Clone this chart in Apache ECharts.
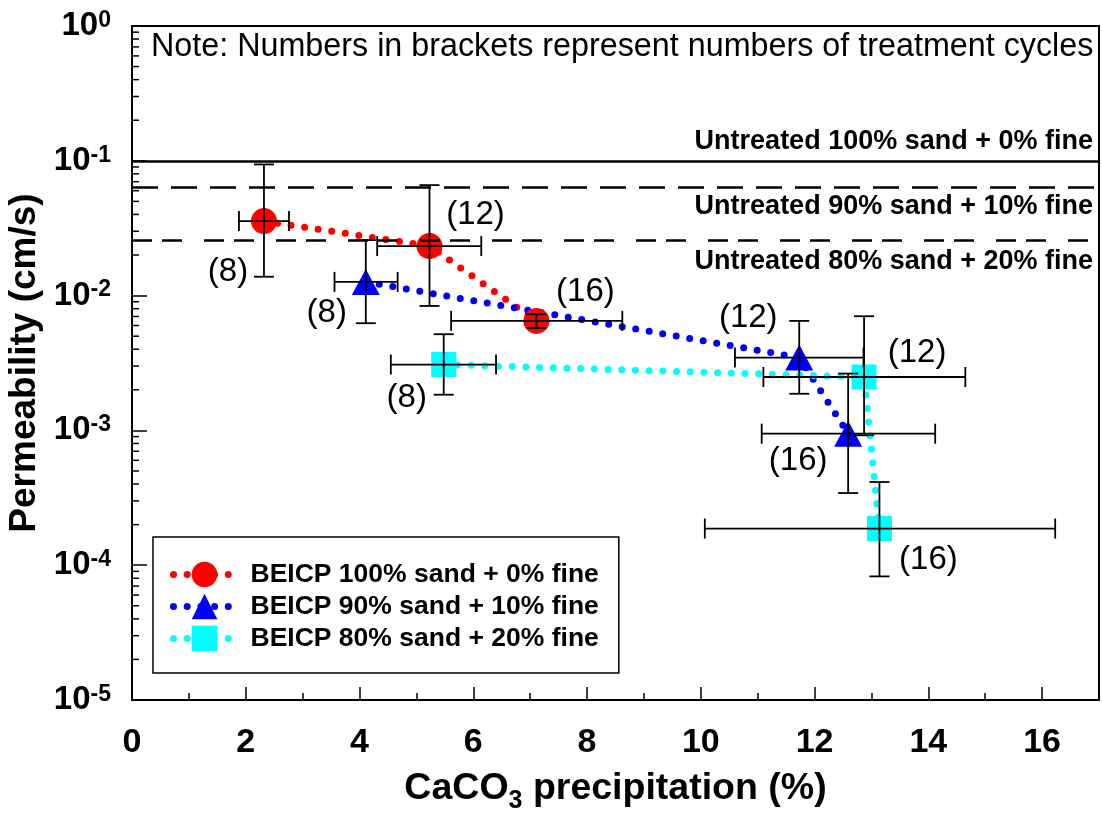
<!DOCTYPE html>
<html><head><meta charset="utf-8">
<script src="https://cdn.jsdelivr.net/npm/echarts@6/dist/echarts.min.js"></script>
<style>html,body{margin:0;padding:0;background:#fff}#c{width:1102px;height:813px}</style>
</head><body><div id="c"></div>
<script>
// ---------- data ----------
const seriesNames = ['BEICP 100% sand + 0% fine', 'BEICP 90% sand + 10% fine', 'BEICP 80% sand + 20% fine'];
const cycles = [8, 12, 16];

const redX   = [2.32, 5.23, 7.11];
const redY   = [0.0357, 0.0233, 0.00649];
const redXlo = [1.88, 4.31, 5.61];
const redXhi = [2.76, 6.14, 8.62];
const redYlo = [0.0138, 0.00838, 0.00575];
const redYhi = [0.094, 0.066, 0.00728];

const blueX   = [4.11, 11.73, 12.59];
const blueY   = [0.01264, 0.00347, 0.000946];
const blueXlo = [3.56, 10.60, 11.07];
const blueXhi = [4.67, 12.86, 14.12];
const blueYlo = [0.00624, 0.00187, 0.000343];
const blueYhi = [0.0258, 0.00649, 0.00264];

const cyanX   = [5.48, 12.87, 13.14];
const cyanY   = [0.00308, 0.00249, 0.000187];
const cyanXlo = [4.55, 11.10, 10.07];
const cyanXhi = [6.40, 14.65, 16.23];
const cyanYlo = [0.00184, 0.00092, 0.0000826];
const cyanYhi = [0.00517, 0.00703, 0.000414];

const untreatedNames  = ['Untreated 100% sand + 0% fine', 'Untreated 90% sand + 10% fine', 'Untreated 80% sand + 20% fine'];
const untreatedValues = [0.1, 0.0641, 0.0258];

const xTicks = [0, 2, 4, 6, 8, 10, 12, 14, 16];
const yDecades = [-5, -4, -3, -2, -1, 0];
const noteText = 'Note: Numbers in brackets represent numbers of treatment cycles';

// ---------- layout / style (not data) ----------
const FONT = "'Liberation Sans', Arial, sans-serif";
const colors = ['#ff0000', '#0000ff', '#00ffff'];
const symbols = ['circle', 'triangle', 'rect'];
const symbolSizes = [26, [28, 26], 25];
const labelOffsets = [
  [[-36, 51], [46, -31], [49, -29]],
  [[-39, 31], [-51, -40], [-50, 27]],
  [[-37, 33], [53, -24], [49, 31]]
];
const untreatedLineStyles = [
  { type: 'solid', width: 2.5 },
  { type: [26, 13], width: 2.5 },
  { type: [20, 10, 20, 22], width: 2.5 }
];
const untreatedLabelPos = ['insideEndTop', 'insideEndBottom', 'insideEndBottom'];
const untreatedLabelDist = [[6, 6], [6, 6], [6, 8]];

const groups = [
  [redX, redY, redXlo, redXhi, redYlo, redYhi],
  [blueX, blueY, blueXlo, blueXhi, blueYlo, blueYhi],
  [cyanX, cyanY, cyanXlo, cyanXhi, cyanYlo, cyanYhi]
];

const minorTickVals = [];
for (let d = -5; d < 0; d++) for (let m = 2; m <= 9; m++) minorTickVals.push(m * Math.pow(10, d));

const chart = echarts.init(document.getElementById('c'), null, { renderer: 'canvas' });

const lineSeries = groups.map((g, gi) => ({
  name: seriesNames[gi],
  type: 'line',
  z: 3,
  symbol: symbols[gi],
  symbolSize: symbolSizes[gi],
  itemStyle: { color: colors[gi] },
  lineStyle: { color: colors[gi], width: 7, type: [0, 13.7], cap: 'round' },
  data: g[0].map((x, i) => ({
    value: [x, g[1][i]],
    label: {
      show: true, position: 'inside', offset: labelOffsets[gi][i],
      formatter: '(' + cycles[i] + ')',
      color: '#000', fontSize: 33, fontFamily: FONT
    }
  }))
}));

const errData = [];
groups.forEach(g => g[0].forEach((x, i) => errData.push([x, g[1][i], g[2][i], g[3][i], g[4][i], g[5][i]])));

const errSeries = {
  type: 'custom', z: 6, silent: true, clip: false,
  encode: { x: 0, y: 1 },
  data: errData,
  renderItem: (params, api) => {
    const x = api.value(0), y = api.value(1);
    const pl = api.coord([api.value(2), y]);
    const ph = api.coord([api.value(3), y]);
    const pt = api.coord([x, api.value(5)]);
    const pb = api.coord([x, api.value(4)]);
    const cap = 10;
    const st = { stroke: '#000', lineWidth: 1.8 };
    const L = (x1, y1, x2, y2) => ({ type: 'line', shape: { x1, y1, x2, y2 }, style: st });
    return {
      type: 'group', children: [
        L(pl[0], pl[1], ph[0], ph[1]),
        L(pl[0], pl[1] - cap, pl[0], pl[1] + cap),
        L(ph[0], ph[1] - cap, ph[0], ph[1] + cap),
        L(pt[0], pt[1], pb[0], pb[1]),
        L(pt[0] - cap, pt[1], pt[0] + cap, pt[1]),
        L(pb[0] - cap, pb[1], pb[0] + cap, pb[1])
      ]
    };
  }
};

const minorTickSeries = {
  type: 'custom', z: 7, silent: true, clip: false,
  encode: { x: 0, y: 1 },
  data: minorTickVals.map(v => [0, v]),
  renderItem: (params, api) => {
    const p = api.coord([0, api.value(1)]);
    return { type: 'line', shape: { x1: p[0], y1: p[1], x2: p[0] + 7, y2: p[1] }, style: { stroke: '#000', lineWidth: 1.5 } };
  }
};

const refSeries = {
  type: 'line', data: [], silent: true, z: 2,
  markLine: {
    symbol: 'none', silent: true, animation: false, precision: 6,
    data: untreatedValues.map((v, i) => ({
      yAxis: v,
      lineStyle: Object.assign({ color: '#000' }, untreatedLineStyles[i]),
      label: {
        show: true, position: untreatedLabelPos[i], formatter: untreatedNames[i],
        color: '#000', fontSize: 27, fontWeight: 'bold', fontFamily: FONT, distance: untreatedLabelDist[i]
      }
    }))
  }
};

const option = {
  animation: false,
  backgroundColor: '#fff',
  grid: {
    left: 132, top: 26, right: 3, bottom: 113, show: true, borderColor: '#000', borderWidth: 2,
    backgroundColor: 'transparent', containLabel: false, outerBoundsMode: 'none'
  },
  legend: {
    data: seriesNames,
    left: 153, top: 537, orient: 'vertical',
    itemWidth: 62, itemHeight: 32, itemGap: 5,
    padding: [24, 20, 21, 17],
    borderColor: '#000', borderWidth: 1.5,
    lineStyle: { width: 7, type: [0, 13.7], cap: 'round' },
    textStyle: { fontSize: 26.5, fontWeight: 'bold', fontFamily: FONT, color: '#000', padding: [0, 0, 0, 10] }
  },
  graphic: [{
    type: 'text', left: 151, top: 31, silent: true,
    style: { text: noteText, fontSize: 32.3, fontFamily: FONT, fill: '#000' }
  }],
  xAxis: {
    type: 'value', min: 0, max: 17, interval: 2,
    name: '{a|CaCO}{s|3}{a| precipitation (%)}',
    nameLocation: 'middle', nameGap: 68,
    nameTextStyle: {
      rich: {
        a: { fontSize: 37.5, fontWeight: 'bold', fontFamily: FONT, color: '#000', lineHeight: 42 },
        s: { fontSize: 25, fontWeight: 'bold', fontFamily: FONT, color: '#000', verticalAlign: 'bottom', lineHeight: 42, padding: [0, 0, -4, 0] }
      }
    },
    axisLine: { lineStyle: { color: '#000', width: 2 } },
    axisTick: { inside: true, length: 13, lineStyle: { color: '#000', width: 1.5 } },
    minorTick: { show: true, splitNumber: 2, length: 7, lineStyle: { color: '#000', width: 1.5 } },
    splitLine: { show: false },
    axisLabel: {
      margin: 26, color: '#000', fontSize: 34, fontWeight: 'bold', fontFamily: FONT,
      formatter: v => (xTicks.indexOf(v) >= 0 ? String(v) : '')
    }
  },
  yAxis: {
    type: 'log', logBase: 10, min: 1e-5, max: 1,
    name: 'Permeability (cm/s)', nameLocation: 'middle', nameGap: 74,
    nameTextStyle: { fontSize: 37, fontWeight: 'bold', fontFamily: FONT, color: '#000' },
    axisLine: { lineStyle: { color: '#000', width: 2 } },
    axisTick: { inside: true, length: 15, lineStyle: { color: '#000', width: 1.5 } },
    splitLine: { show: false },
    axisLabel: {
      margin: 21, color: '#000',
      formatter: v => {
        const e = Math.round(Math.log10(v));
        return yDecades.indexOf(e) >= 0 ? '{b|10}{s|' + e + '}' : '';
      },
      rich: {
        b: { fontSize: 33, fontWeight: 'bold', fontFamily: FONT, color: '#000', lineHeight: 34 },
        s: { fontSize: 23, fontWeight: 'bold', fontFamily: FONT, color: '#000', verticalAlign: 'top', lineHeight: 34 }
      }
    }
  },
  series: [refSeries].concat(lineSeries, [errSeries, minorTickSeries])
};
chart.setOption(option);
</script>
</body></html>
